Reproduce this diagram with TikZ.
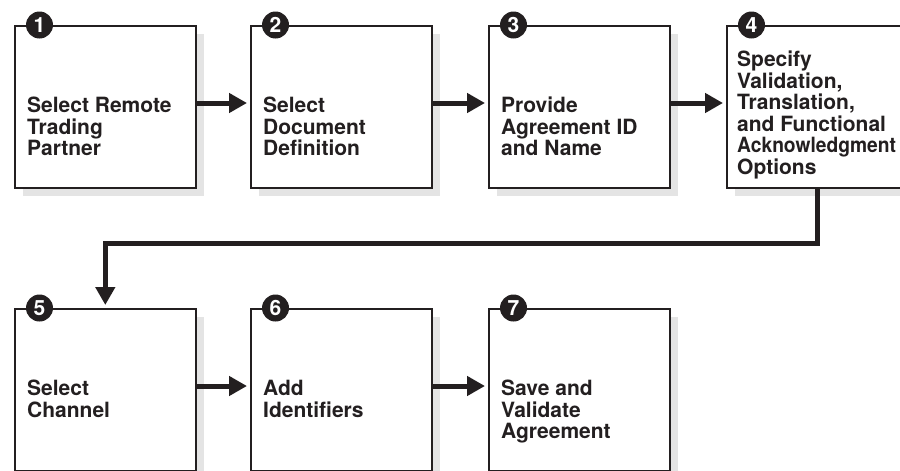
\documentclass[tikz,border=0pt]{standalone}
\usepackage{fontspec}
\setmainfont{TeX Gyre Heros}
\usetikzlibrary{arrows.meta,shadows,calc}
\definecolor{inkc}{HTML}{231F20}
\definecolor{shadowc}{HTML}{E4E4E4}
\tikzset{
  stepbox/.style={draw=inkc, line width=1.6pt, fill=white, minimum width=181pt, minimum height=162pt,
    inner sep=0pt, anchor=north west,
    drop shadow={shadow xshift=8pt, shadow yshift=-8pt, fill=shadowc, opacity=1}},
  steptext/.style={anchor=north west, inner sep=0pt, align=left, text=inkc,
    font=\fontsize{21}{21.5}\selectfont\bfseries},
  stepnum/.style={circle, fill=inkc, minimum size=27pt, inner sep=0pt, text=white,
    font=\fontsize{21}{21}\selectfont\bfseries},
  flow/.style={line width=5pt, draw=inkc, -{Triangle[length=18pt,width=19pt]}, shorten >=3pt},
}
\begin{document}
\begin{tikzpicture}[x=1pt,y=-1pt]
\useasboundingbox (0,0) rectangle (900,471);
\clip (0,0) rectangle (900,471);
% boxes
\node[stepbox] (b1) at (14,25) {};
\node[stepbox] (b2) at (250,25) {};
\node[stepbox] (b3) at (488,25) {};
\node[stepbox] (b4) at (726,25) {};
\node[stepbox] (b5) at (14,308) {};
\node[stepbox] (b6) at (250,308) {};
\node[stepbox] (b7) at (488,308) {};
% texts
\node[steptext] (t1) at ([xshift=13pt,yshift=-72pt]b1.north west) {Select Remote\\Trading\\Partner};
\node[steptext] (t2) at ([xshift=13pt,yshift=-72pt]b2.north west) {Select\\Document\\Definition};
\node[steptext] (t3) at ([xshift=13pt,yshift=-72pt]b3.north west) {Provide\\Agreement ID\\and Name};
\node[steptext] (t4) at ([xshift=11pt,yshift=-26pt]b4.north west) {Specify\\Validation,\\Translation,\\and Functional\\\scalebox{0.915}[1]{Acknowledgment}\\Options};
\node[steptext] (t5) at ([xshift=13pt,yshift=-72pt]b5.north west) {Select\\Channel};
\node[steptext] (t6) at ([xshift=13pt,yshift=-72pt]b6.north west) {Add\\Identifiers};
\node[steptext] (t7) at ([xshift=13pt,yshift=-72pt]b7.north west) {Save and\\Validate\\Agreement};
% numbers
\foreach \i in {1,...,7} {
  \node[stepnum] (n\i) at ([xshift=25.5pt]b\i.north west) {\i};
}
% connectors
\draw[flow] ([yshift=-78pt]b1.north east) -- ([yshift=-78pt]b2.north west);
\draw[flow] ([yshift=-78pt]b2.north east) -- ([yshift=-78pt]b3.north west);
\draw[flow] ([yshift=-78pt]b3.north east) -- ([yshift=-78pt]b4.north west);
\draw[flow] (b4.south) -- ++(0,55) -| (b5.north);
\draw[flow] ([yshift=-78pt]b5.north east) -- ([yshift=-78pt]b6.north west);
\draw[flow] ([yshift=-78pt]b6.north east) -- ([yshift=-78pt]b7.north west);
\end{tikzpicture}
\end{document}
